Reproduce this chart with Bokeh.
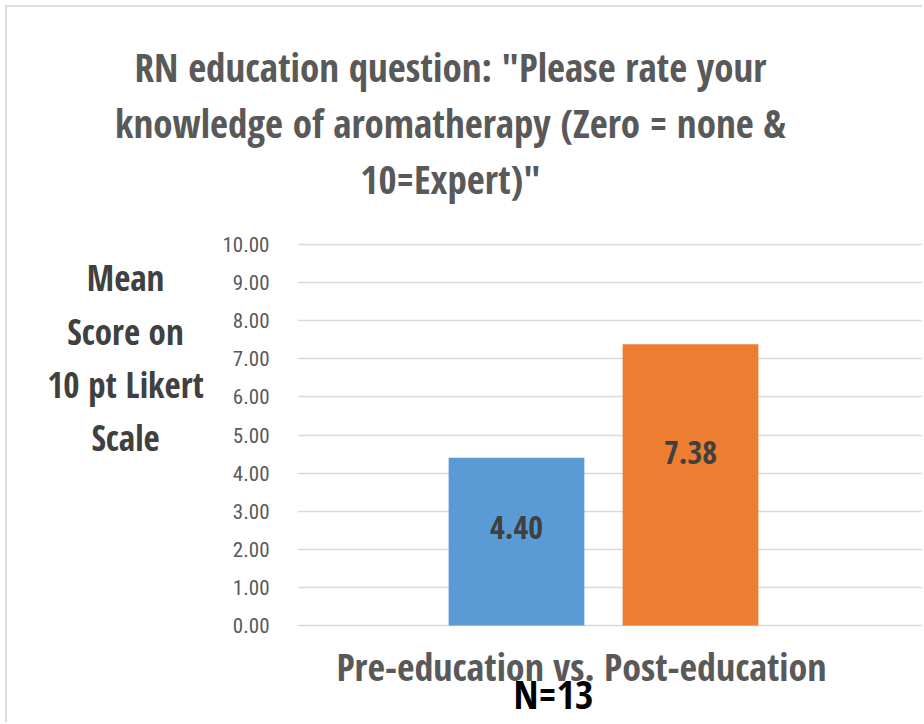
from bokeh.plotting import figure
from bokeh.models import Range1d, ColumnDataSource, FixedTicker
from bokeh.layouts import column, row
from bokeh.core.properties import value
from bokeh.embed import file_html
from bokeh.resources import INLINE

# ---- data ----
categories = ["Pre-education", "Post-education"]
means = [4.40, 7.38]
bar_colors = ["#5B9BD5", "#ED7D31"]
title_lines = ['RN education question: "Please rate your',
               'knowledge of aromatherapy (Zero = none &',
               '10=Expert)"']
ylabel_lines = ["Mean", "Score on", "10 pt Likert", "Scale"]
xlabel_text = "Pre-education vs. Post-education"
n_text = "N=13"
y_ticks = [0, 1, 2, 3, 4, 5, 6, 7, 8, 9, 10]

FONT = "Open Sans Condensed"
TICK_FONT = "Roboto Condensed"
O = 7            # chart border offset (page px)
TOTAL_W = 915
AXIS_W = 80      # room for the y tick labels


def text_panel(w, h):
    """A blank figure whose frame covers its whole canvas, used to hold text."""
    f = figure(width=w, height=h, output_backend="svg", toolbar_location=None,
               x_range=Range1d(0, w), y_range=Range1d(h, 0),
               min_border=0, min_border_left=0, min_border_right=0,
               min_border_top=0, min_border_bottom=0)
    f.axis.visible = False
    f.grid.visible = False
    f.outline_line_color = None
    return f


def put(f, xs, ys, texts, size, color, style="bold"):
    f.text(x=xs, y=ys, text=texts, text_align="center", text_baseline="middle",
           text_font=value(FONT), text_font_style=style, text_font_size=size,
           text_color=color)


# ---- title ----
HEAD_H = 232 - O
head = text_panel(TOTAL_W, HEAD_H)
put(head, [450 - O] * 3, [y - O for y in [66, 122, 178]], title_lines, "39px", "#595959")

# ---- y label panel ----
MID_H = 8 + 387 + 11
LEFT_W = 297 - AXIS_W - O
ylab = text_panel(LEFT_W, MID_H)
put(ylab, [125 - O] * 4, [y - 232 for y in [271, 327, 383, 439]], ylabel_lines, "35px", "#404040")

# ---- main chart ----
idx = list(range(len(categories)))
src = ColumnDataSource(dict(
    x=idx, top=means, color=bar_colors,
    label=[f"{v:.2f}" for v in means],
    ly=[0.661 * v - 0.34 for v in means],
))

frame_w = TOTAL_W - LEFT_W - AXIS_W
x0 = -1.2586
p = figure(width=TOTAL_W - LEFT_W, height=MID_H, output_backend="svg", toolbar_location=None,
           x_range=Range1d(x0, x0 + frame_w / 174.0), y_range=Range1d(-0.0525, 10.105),
           min_border_left=AXIS_W, min_border_right=0, min_border_top=8, min_border_bottom=11)
p.outline_line_color = None
p.vbar(x="x", top="top", bottom=0, width=0.78, color="color", line_color=None, source=src)
p.text(x="x", y="ly", text="label", source=src, text_align="center",
       text_baseline="middle", text_font=value(FONT), text_font_style="bold",
       text_font_size="32px", text_color="#404040")

p.xaxis.visible = False
p.xgrid.visible = False
p.ygrid.grid_line_color = "#D9D9D9"
p.ygrid.grid_line_width = 1.5
p.ygrid.level = "underlay"
p.yaxis.ticker = FixedTicker(ticks=y_ticks)
p.yaxis.major_label_overrides = {t: f"{t:.2f}" for t in y_ticks}
p.yaxis.axis_line_color = None
p.yaxis.major_tick_line_color = None
p.yaxis.minor_tick_line_color = None
p.yaxis.major_label_standoff = 22
p.yaxis.major_label_text_font = TICK_FONT
p.yaxis.major_label_text_font_size = "21px"
p.yaxis.major_label_text_color = "#595959"

# ---- footer ----
top_f = 232 + MID_H
FOOT_H = 722 - top_f
foot = text_panel(TOTAL_W, FOOT_H)
put(foot, [581 - O], [665 - top_f], [xlabel_text], "38px", "#595959")
put(foot, [553 - O], [693 - top_f], [n_text], "40px", "#000000")

layout = column(head, row(ylab, p), foot, margin=(5, 0, 0, 5),
                styles={"border-top": "2px solid #DCDCDC", "border-left": "2px solid #DCDCDC"})
open("out.html", "w").write(file_html(layout, INLINE))
